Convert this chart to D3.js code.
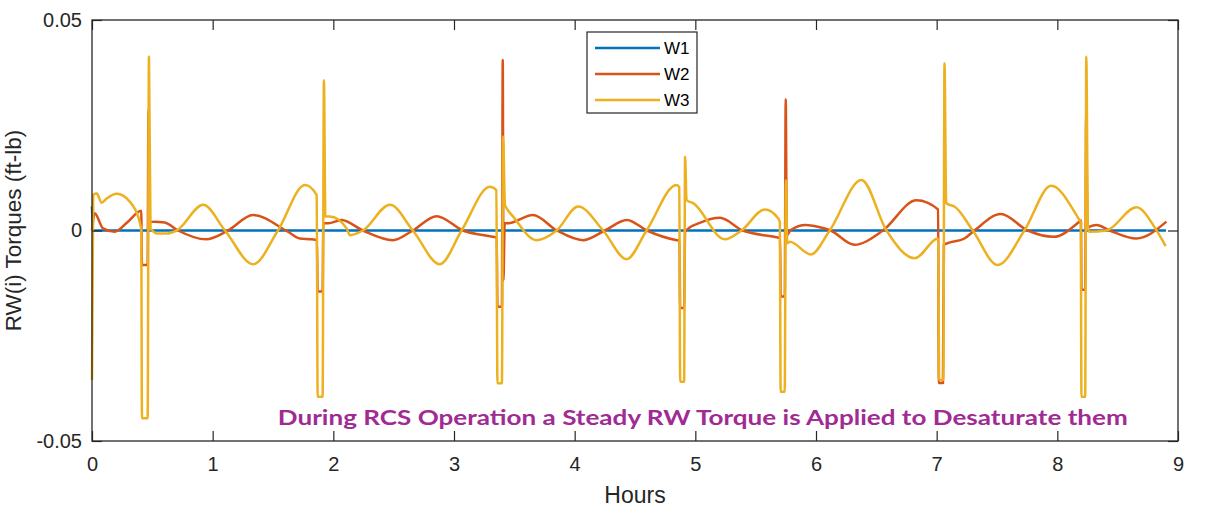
<!DOCTYPE html>
<html>
<head>
<meta charset="utf-8">
<script src="https://cdn.jsdelivr.net/npm/d3@7"></script>
<style>
  body { margin: 0; background: #fff; }
  .tick text { font-family: "Liberation Sans", Arial, sans-serif; fill: #262626; }
</style>
</head>
<body>
<div id="chart"></div>
<script>
// data (hours, ft-lb)
var w1Hours = [0, 0.008, 8.9];
var w1Vals = [0.0057, 0, 0];

var w2Hours = [0, 0.022, 0.091, 0.188, 0.298, 0.408, 0.414, 0.461, 0.468, 0.476, 0.519, 0.602, 0.713, 0.944,
  1.127, 1.334, 1.624, 1.723, 1.823, 1.864, 1.87, 1.911, 1.917, 1.958, 2.069, 2.245, 2.494, 2.659, 2.856,
  3.074, 3.322, 3.354, 3.36, 3.397, 3.404, 3.41, 3.42, 3.446, 3.654, 3.853, 4.068, 4.25, 4.433, 4.598,
  4.847, 4.869, 4.874, 4.907, 4.915, 4.927, 5.037, 5.203, 5.393, 5.672, 5.702, 5.707, 5.741, 5.749, 5.758,
  5.791, 5.915, 6.015, 6.122, 6.319, 6.554, 6.833, 7.012, 7.018, 7.052, 7.06, 7.092, 7.23, 7.313, 7.531,
  7.755, 7.97, 8.183, 8.196, 8.2, 8.231, 8.239, 8.25, 8.268, 8.324, 8.434, 8.655, 8.904];
var w2Vals = [0, 0.0041, 0.0005, -0.0003, 0.0021, 0.0047, -0.0082, -0.0082, 0.0286, 0.002, 0.0021, 0.0019, 0, -0.0021,
  0, 0.0037, -0.0003, -0.0019, -0.0021, -0.0023, -0.0145, -0.0145, 0.0017, 0.0017, 0.0025, 0, -0.0023, 0, 0.0034,
  0, -0.0015, -0.0017, -0.0181, -0.0181, 0.0405, -0.0118, 0.0017, 0.0017, 0.0037, 0, -0.0023, 0, 0.0025, 0,
  -0.0023, -0.0024, -0.0184, -0.0184, -0.0004, 0.0001, 0.0018, 0.003, 0, -0.0016, -0.0018, -0.0157, -0.0157, 0.0312, -0.0011,
  0.0001, 0.0013, 0.0009, 0, -0.0034, 0, 0.0072, 0.005, -0.0362, -0.0362, -0.0034, -0.003, -0.0019, 0, 0.0039,
  0, -0.0015, 0.0021, 0.0024, -0.0141, -0.0141, 0.0274, 0.0006, 0.0009, 0.0013, 0, -0.0019, 0.0021];

var w3Hours = [0, 0.01, 0.04, 0.08, 0.122, 0.205, 0.315, 0.408, 0.414, 0.461, 0.472, 0.485, 0.495, 0.536, 0.619,
  0.702, 0.922, 1.102, 1.336, 1.541, 1.765, 1.862, 1.87, 1.911, 1.922, 1.934, 1.972, 2.11, 2.137, 2.245,
  2.469, 2.659, 2.883, 3.063, 3.297, 3.351, 3.36, 3.397, 3.407, 3.422, 3.436, 3.49, 3.684, 3.85, 4.029,
  4.236, 4.43, 4.596, 4.844, 4.867, 4.874, 4.907, 4.915, 4.927, 4.982, 5.244, 5.383, 5.576, 5.686, 5.7,
  5.707, 5.741, 5.75, 5.762, 5.783, 5.957, 6.114, 6.377, 6.584, 6.818, 7.012, 7.021, 7.055, 7.065, 7.079,
  7.108, 7.147, 7.299, 7.506, 7.727, 7.949, 8.183, 8.194, 8.2, 8.231, 8.24, 8.254, 8.268, 8.406, 8.655,
  8.821, 8.898];
var w3Vals = [-0.0355, 0.0085, 0.0088, 0.0066, 0.0076, 0.0087, 0.0068, 0.0004, -0.0446, -0.0446, 0.0413, 0.0004, 0.0001, -0.0007, -0.0007,
  0, 0.0061, 0, -0.008, 0, 0.0108, 0.0084, -0.0395, -0.0395, 0.0357, 0.0033, 0.0033, 0.0005, -0.0011, 0,
  0.0061, 0, -0.008, 0, 0.0104, 0.0096, -0.0363, -0.0363, 0.0223, 0.0061, 0.0053, 0.0033, -0.0023, 0, 0.0057,
  0, -0.0068, 0, 0.0108, 0.0103, -0.0359, -0.0359, 0.0175, 0.0072, 0.0065, -0.0021, 0, 0.005, 0.0029, 0.002,
  -0.0383, -0.0383, 0.012, -0.003, -0.0027, -0.0057, 0, 0.012, 0, -0.0066, -0.0019, -0.0355, -0.0355, 0.0397, 0.0065,
  0.0061, 0.0057, 0, -0.0082, 0, 0.0106, 0.0025, 0.002, -0.0395, -0.0395, 0.0413, 0.0004, -0.0003, 0, 0.0055,
  0.0001, -0.0037];

var seriesNames = ["W1", "W2", "W3"];
var seriesColors = ["#0072BD", "#D95319", "#EDB120"];
var xTicks = [0, 1, 2, 3, 4, 5, 6, 7, 8, 9];
var yTicks = [-0.05, 0, 0.05];
var yTickLabels = ["-0.05", "0", "0.05"];

// Chart size
var svgWidth = 1209;
var svgHeight = 518;

var margin = { top: 20, right: 31, bottom: 77, left: 92 };
var width = svgWidth - margin.left - margin.right;
var height = svgHeight - margin.top - margin.bottom;

var svg = d3.select("#chart")
  .append("svg")
  .attr("width", svgWidth)
  .attr("height", svgHeight);

var chartGroup = svg.append("g")
  .attr("transform", `translate(${margin.left}, ${margin.top})`);

var xScale = d3.scaleLinear().domain([0, 9]).range([0, width]);
var yScale = d3.scaleLinear().domain([-0.05, 0.05]).range([height, 0]);

// zip hours / values into point lists
function toPoints(hours, vals) {
  return hours.map((h, i) => ({ h: h, v: vals[i] }));
}
var allSeries = [
  toPoints(w1Hours, w1Vals),
  toPoints(w2Hours, w2Vals),
  toPoints(w3Hours, w3Vals)
];

// clip lines to the plot box
chartGroup.append("clipPath").attr("id", "plotClip")
  .append("rect").attr("x", -2).attr("width", width + 2).attr("height", height);

var line = d3.line()
  .x(d => xScale(d.h))
  .y(d => yScale(d.v))
  .curve(d3.curveMonotoneX);

chartGroup.append("g")
  .attr("clip-path", "url(#plotClip)")
  .selectAll("path")
  .data(allSeries)
  .enter()
  .append("path")
  .attr("d", d => line(d))
  .attr("fill", "none")
  .attr("stroke", (d, i) => seriesColors[i])
  .attr("stroke-width", 2.5)
  .attr("stroke-linejoin", "round");

// axes, ticks pointing inward like MATLAB
var axisColor = "#262626";
var bottomAxis = d3.axisBottom(xScale).tickValues(xTicks).tickSizeInner(-10).tickSizeOuter(0).tickPadding(16);
var leftAxis = d3.axisLeft(yScale).tickValues(yTicks).tickFormat((d, i) => yTickLabels[i]).tickSizeInner(-10).tickSizeOuter(0).tickPadding(10);
var topAxis = d3.axisTop(xScale).tickValues(xTicks).tickSizeInner(-10).tickSizeOuter(0).tickFormat("");
var rightAxis = d3.axisRight(yScale).tickValues(yTicks).tickSizeInner(-10).tickSizeOuter(0).tickFormat("");

var xAxisG = chartGroup.append("g").attr("transform", `translate(0, ${height})`).call(bottomAxis);
var yAxisG = chartGroup.append("g").call(leftAxis);
var topG = chartGroup.append("g").call(topAxis);
var rightG = chartGroup.append("g").attr("transform", `translate(${width}, 0)`).call(rightAxis);

[xAxisG, yAxisG, topG, rightG].forEach(function(g) {
  g.selectAll("line").attr("stroke", axisColor).attr("stroke-width", 1.2);
  g.select(".domain").remove();
  g.selectAll("text").attr("font-size", 20);
});

chartGroup.append("rect")
  .attr("width", width)
  .attr("height", height)
  .attr("fill", "none")
  .attr("stroke", axisColor)
  .attr("stroke-width", 1.3);

// axis labels
chartGroup.append("text")
  .attr("x", width / 2)
  .attr("y", height + 62)
  .attr("text-anchor", "middle")
  .attr("font-family", "Liberation Sans, Arial, sans-serif")
  .attr("font-size", 23)
  .attr("fill", axisColor)
  .text("Hours");

chartGroup.append("text")
  .attr("transform", "rotate(-90)")
  .attr("x", 0 - yScale(0))
  .attr("y", -71)
  .attr("text-anchor", "middle")
  .attr("font-family", "Liberation Sans, Arial, sans-serif")
  .attr("font-size", 22.5)
  .attr("fill", axisColor)
  .text("RW(i) Torques (ft-lb)");

// annotation
chartGroup.append("text")
  .attr("x", xScale(1.54))
  .attr("y", yScale(-0.0462))
  .attr("font-family", "Lato, 'Open Sans', sans-serif")
  .attr("font-weight", "bold")
  .attr("font-size", 20)
  .attr("fill", "#A02B93")
  .attr("textLength", 850)
  .attr("lengthAdjust", "spacingAndGlyphs")
  .text("During RCS Operation a Steady RW Torque is Applied to Desaturate them");

// legend
var legend = svg.append("g").attr("transform", "translate(587, 32)");
legend.append("rect")
  .attr("width", 110)
  .attr("height", 81)
  .attr("fill", "#fff")
  .attr("stroke", axisColor)
  .attr("stroke-width", 1.2);

var legendItems = legend.selectAll("g.item")
  .data(seriesNames)
  .enter()
  .append("g")
  .attr("class", "item")
  .attr("transform", (d, i) => `translate(0, ${16 + i * 26})`);

legendItems.append("line")
  .attr("x1", 8).attr("x2", 73)
  .attr("stroke", (d, i) => seriesColors[i])
  .attr("stroke-width", 2.5);

legendItems.append("text")
  .attr("x", 77)
  .attr("y", 6)
  .attr("font-family", "Liberation Sans, Arial, sans-serif")
  .attr("font-size", 17)
  .attr("fill", "#000")
  .text(d => d);
</script>
</body>
</html>
